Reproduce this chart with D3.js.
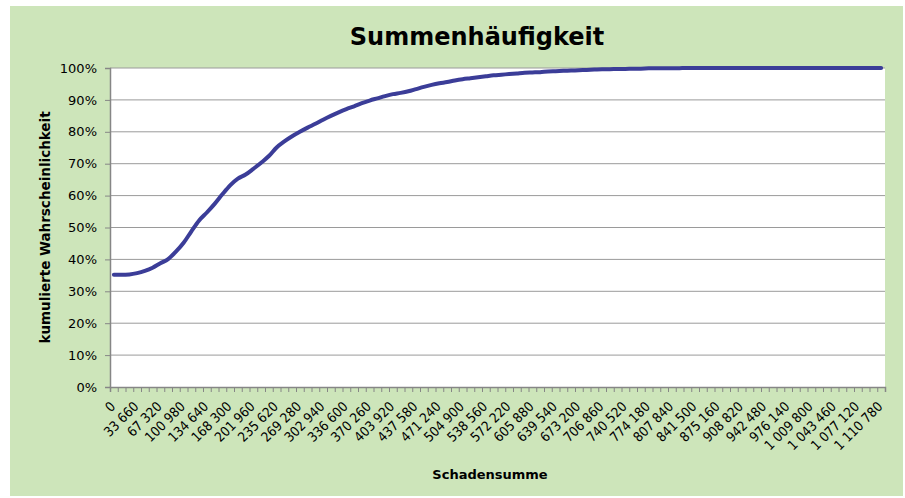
<!DOCTYPE html>
<html>
<head>
<meta charset="utf-8">
<script src="https://cdn.jsdelivr.net/npm/d3@7"></script>
<style>
  body { margin: 0; background: #fff; }
  text { font-family: "DejaVu Sans", sans-serif; fill: #000; }
  .xlab { font-family: "DejaVu Sans Condensed", "DejaVu Sans", sans-serif; font-stretch: condensed; font-size: 13.5px; }
</style>
</head>
<body>
<div id="chart"></div>
<script>
// Schadensumme categories (x axis)
var categories = [0, 11220, 22440, 33660, 44880, 56100, 67320, 78540, 89760, 100980,
  112200, 123420, 134640, 145860, 157080, 168300, 179520, 190740, 201960, 213180,
  224400, 235620, 246840, 258060, 269280, 280500, 291720, 302940, 314160, 325380,
  336600, 347820, 359040, 370260, 381480, 392700, 403920, 415140, 426360, 437580,
  448800, 460020, 471240, 482460, 493680, 504900, 516120, 527340, 538560, 549780,
  561000, 572220, 583440, 594660, 605880, 617100, 628320, 639540, 650760, 661980,
  673200, 684420, 695640, 706860, 718080, 729300, 740520, 751740, 762960, 774180,
  785400, 796620, 807840, 819060, 830280, 841500, 852720, 863940, 875160, 886380,
  897600, 908820, 920040, 931260, 942480, 953700, 964920, 976140, 987360, 998580,
  1009800, 1021020, 1032240, 1043460, 1054680, 1065900, 1077120, 1088340, 1099560, 1110780];

// kumulierte Wahrscheinlichkeit
var values = [0.352, 0.352, 0.353, 0.357, 0.364, 0.374, 0.388, 0.401, 0.424, 0.452,
  0.488, 0.522, 0.547, 0.574, 0.604, 0.632, 0.653, 0.666, 0.684, 0.703,
  0.724, 0.751, 0.770, 0.786, 0.800, 0.813, 0.825, 0.838, 0.850, 0.861,
  0.871, 0.880, 0.890, 0.898, 0.905, 0.912, 0.918, 0.922, 0.927, 0.934,
  0.941, 0.947, 0.952, 0.956, 0.961, 0.965, 0.968, 0.971, 0.974, 0.977,
  0.979, 0.981, 0.983, 0.985, 0.986, 0.987, 0.989, 0.990, 0.991, 0.992,
  0.993, 0.994, 0.995, 0.996, 0.996, 0.997, 0.997, 0.998, 0.998, 0.999,
  0.999, 0.999, 0.999, 0.9995, 1, 1, 1, 1, 1, 1,
  1, 1, 1, 1, 1, 1, 1, 1, 1, 1,
  1, 1, 1, 1, 1, 1, 1, 1, 1, 1];

var yTicks = [0, 0.1, 0.2, 0.3, 0.4, 0.5, 0.6, 0.7, 0.8, 0.9, 1];
var labelEvery = 3;

var W = 905, H = 498;
var margin = {top: 68, right: 20, bottom: 111, left: 110},
    width = 885 - margin.left,
    height = 387 - margin.top;

var svg = d3.select("#chart").append("svg")
    .attr("width", W)
    .attr("height", H);

svg.append("rect")
    .attr("x", 10).attr("y", 6)
    .attr("width", 893).attr("height", 490)
    .attr("fill", "#cde5ba");

svg.append("text")
    .attr("x", 477).attr("y", 45)
    .attr("text-anchor", "middle")
    .style("font-size", "24px")
    .style("font-weight", "bold")
    .text("Summenhäufigkeit");

var canvas = svg.append("g")
    .attr("transform", "translate(" + margin.left + "," + margin.top + ")");

canvas.append("rect")
    .attr("width", width).attr("height", height)
    .attr("fill", "#fff");

var x = d3.scaleBand()
    .domain(categories)
    .range([0, width])
    .padding(0);

var y = d3.scaleLinear()
    .domain([0, 1])
    .range([height, 0]);

// gridlines
canvas.append("g")
  .selectAll("line")
  .data(yTicks.slice(1))
  .enter().append("line")
    .attr("x1", 0).attr("x2", width)
    .attr("y1", d => y(d)).attr("y2", d => y(d))
    .attr("stroke", "#9a9a9a")
    .attr("stroke-width", 1);

// y axis
var yAxis = canvas.append("g")
    .call(d3.axisLeft(y).tickValues(yTicks).tickFormat(d3.format(".0%")).tickSize(5).tickPadding(8));
yAxis.select(".domain").attr("stroke", "#868686").attr("stroke-width", 1.5);
yAxis.selectAll(".tick line").attr("stroke", "#868686");
yAxis.selectAll("text").style("font-size", "13px").attr("font-family", null);

// x axis: tick marks at category boundaries
var xb = d3.scaleLinear().domain([0, categories.length]).range([0, width]);
var xAxisTicks = canvas.append("g")
    .attr("transform", "translate(0," + height + ")")
    .call(d3.axisBottom(xb).tickValues(d3.range(categories.length + 1)).tickSize(5).tickFormat(""));
xAxisTicks.select(".domain").attr("stroke", "#868686").attr("stroke-width", 1.5);
xAxisTicks.selectAll(".tick line").attr("stroke", "#868686");

// x labels, rotated 45 degrees
var fmt = d3.formatLocale({decimal: ",", thousands: " ", grouping: [3], currency: ["", " €"]}).format(",d");
canvas.append("g")
  .selectAll("text")
  .data(categories.filter((d, i) => i % labelEvery === 0))
  .enter().append("text")
    .attr("class", "xlab")
    .attr("text-anchor", "end")
    .attr("transform", d => "translate(" + (x(d) + x.bandwidth() / 2 - 1) + "," + (height + 17) + ") rotate(-45)")
    .attr("dy", "0.35em")
    .text(d => fmt(d));

// line
var line = d3.line()
    .x((d, i) => x(categories[i]) + x.bandwidth() / 2)
    .y(d => y(d))
    .curve(d3.curveMonotoneX);

canvas.append("path")
    .datum(values)
    .attr("fill", "none")
    .attr("stroke", "#3b3d98")
    .attr("stroke-width", 4)
    .attr("stroke-linecap", "round")
    .attr("stroke-linejoin", "round")
    .attr("d", line);

// axis titles
svg.append("text")
    .attr("transform", "translate(50," + (margin.top + height / 2) + ")rotate(-90)")
    .attr("text-anchor", "middle")
    .style("font-size", "13.5px")
    .style("font-weight", "bold")
    .text("kumulierte Wahrscheinlichkeit");

svg.append("text")
    .attr("x", 490).attr("y", 479)
    .attr("text-anchor", "middle")
    .style("font-size", "13px")
    .style("font-weight", "bold")
    .text("Schadensumme");
</script>
</body>
</html>
